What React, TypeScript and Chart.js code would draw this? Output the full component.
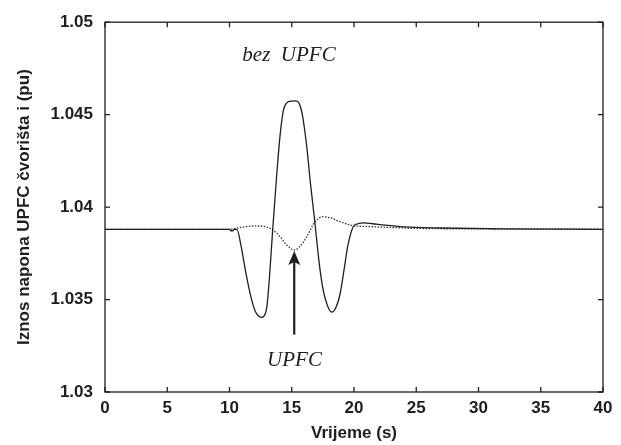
import React, { useEffect, useRef } from 'react';
import { Chart, registerables } from 'chart.js';

Chart.register(...registerables);

// Time axis (s) and voltage magnitude (pu) — curve without UPFC (solid)
const timeBez = [0, 5, 10, 10.1, 10.25, 10.4, 10.6, 10.9, 11.3, 11.7, 12.05, 12.35, 12.6, 12.85, 13.0, 13.2, 13.47, 13.8, 14.05, 14.32, 14.55, 14.8, 15.3, 15.6, 15.85, 16.2, 16.5, 16.87, 17.2, 17.5, 17.8, 18.2, 18.5, 18.88, 19.2, 19.5, 19.94, 20.3, 20.8, 21.5, 22.5, 24, 27, 32, 40];
const valBez = [1.0388, 1.0388, 1.0388, 1.03872, 1.03872, 1.0388, 1.0388, 1.0380, 1.0365, 1.0352, 1.0344, 1.0341, 1.03404, 1.0342, 1.0346, 1.0361, 1.0388, 1.0418, 1.0438, 1.0452, 1.0456, 1.04572, 1.04575, 1.0456, 1.0450, 1.0433, 1.0413, 1.0391, 1.0370, 1.0356, 1.0348, 1.03432, 1.0345, 1.0353, 1.0366, 1.0379, 1.03894, 1.0391, 1.03915, 1.0391, 1.03902, 1.03893, 1.03887, 1.03882, 1.0388];

// Curve with UPFC (dotted)
const timeUpfc = [0, 5, 10, 10.5, 11.2, 12, 12.8, 13.4, 14.06, 14.6, 15.2, 15.7, 16.2, 16.87, 17.5, 18.2, 18.9, 19.94, 21, 23, 25, 30, 40];
const valUpfc = [1.0388, 1.0388, 1.0388, 1.03885, 1.03893, 1.03898, 1.03895, 1.0388, 1.0384, 1.03795, 1.03768, 1.0379, 1.0384, 1.0392, 1.03948, 1.0394, 1.0392, 1.039, 1.03895, 1.0389, 1.03885, 1.03882, 1.0388];

const xTicks = [0, 5, 10, 15, 20, 25, 30, 35, 40];
const xTickLabels = ['0', '5', '10', '15', '20', '25', '30', '35', '40'];
const yTicks = [1.03, 1.035, 1.04, 1.045, 1.05];
const yTickLabels = ['1.03', '1.035', '1.04', '1.045', '1.05'];

const xTitle = 'Vrijeme (s)';
const yTitle = 'Iznos napona UPFC čvorišta i (pu)';

const labelBez = 'bez  UPFC';
const labelBezAt = [14.78, 1.04822];
const labelUpfc = 'UPFC';
const labelUpfcAt = [15.22, 1.03168];
const arrowFrom = [15.2, 1.0331];
const arrowTo = [15.2, 1.03762];

const INK = '#1e1e1e';
const SANS = '"Liberation Sans", Arial, sans-serif';
const SERIF = '"Liberation Serif", "Times New Roman", serif';

const decorPlugin = {
  id: 'decor',
  afterDatasetsDraw(chart: any) {
    const { ctx, chartArea } = chart;
    const xs = chart.scales.x;
    const ys = chart.scales.y;
    const { left, right, top, bottom } = chartArea;
    ctx.save();
    ctx.strokeStyle = INK;
    ctx.lineWidth = 1.3;
    ctx.strokeRect(left, top, right - left, bottom - top);
    const tl = 5;
    ctx.beginPath();
    xTicks.forEach((v) => {
      const px = xs.getPixelForValue(v);
      ctx.moveTo(px, bottom);
      ctx.lineTo(px, bottom - tl);
      ctx.moveTo(px, top);
      ctx.lineTo(px, top + tl);
    });
    yTicks.forEach((v) => {
      const py = ys.getPixelForValue(v);
      ctx.moveTo(left, py);
      ctx.lineTo(left + tl, py);
      ctx.moveTo(right, py);
      ctx.lineTo(right - tl, py);
    });
    ctx.stroke();

    // arrow
    const ax = xs.getPixelForValue(arrowFrom[0]);
    const ay0 = ys.getPixelForValue(arrowFrom[1]);
    const ay1 = ys.getPixelForValue(arrowTo[1]);
    ctx.lineWidth = 2.2;
    ctx.beginPath();
    ctx.moveTo(ax, ay0);
    ctx.lineTo(ax, ay1 + 10);
    ctx.stroke();
    ctx.fillStyle = INK;
    ctx.beginPath();
    ctx.moveTo(ax, ay1);
    ctx.lineTo(ax - 6, ay1 + 14);
    ctx.lineTo(ax, ay1 + 11);
    ctx.lineTo(ax + 6, ay1 + 14);
    ctx.closePath();
    ctx.fill();

    // labels
    ctx.font = 'italic 21px ' + SERIF;
    ctx.textAlign = 'center';
    ctx.textBaseline = 'middle';
    ctx.fillText(labelBez, xs.getPixelForValue(labelBezAt[0]), ys.getPixelForValue(labelBezAt[1]));
    ctx.fillText(labelUpfc, xs.getPixelForValue(labelUpfcAt[0]), ys.getPixelForValue(labelUpfcAt[1]));
    ctx.restore();
  },
};

export default function App() {
  const canvasRef = useRef<HTMLCanvasElement | null>(null);

  useEffect(() => {
    if (!canvasRef.current) return;
    const chart = new Chart(canvasRef.current, {
      type: 'line',
      data: {
        datasets: [
          {
            label: 'bez UPFC',
            data: timeBez.map((t, i) => ({ x: t, y: valBez[i] })),
            borderColor: INK,
            borderWidth: 1.3,
            pointRadius: 0,
            cubicInterpolationMode: 'monotone',
          },
          {
            label: 'UPFC',
            data: timeUpfc.map((t, i) => ({ x: t, y: valUpfc[i] })),
            borderColor: '#333',
            borderWidth: 1.3,
            borderDash: [1.5, 1.5],
            pointRadius: 0,
            cubicInterpolationMode: 'monotone',
          },
        ],
      },
      options: {
        animation: false,
        responsive: true,
        maintainAspectRatio: false,
        layout: { padding: { top: 22, right: 18, left: 0, bottom: 0 } },
        plugins: { legend: { display: false }, tooltip: { enabled: false } },
        scales: {
          x: {
            type: 'linear',
            min: 0,
            max: 40,
            afterFit: (s: any) => { s.height = 53; },
            afterBuildTicks: (s: any) => { s.ticks = xTicks.map((v) => ({ value: v })); },
            grid: { display: false, drawTicks: false },
            border: { display: false },
            ticks: {
              padding: 6,
              color: INK,
              font: { family: SANS, size: 17, weight: 'bold' },
              maxRotation: 0,
              callback: (v: any) => xTickLabels[xTicks.indexOf(Number(v))] ?? '',
            },
            title: {
              display: true,
              text: xTitle,
              color: INK,
              font: { family: SANS, size: 17, weight: 'bold' },
              padding: { top: 0, bottom: 1 },
            },
          },
          y: {
            type: 'linear',
            min: 1.03,
            max: 1.05,
            afterFit: (s: any) => { s.width = 105; },
            afterBuildTicks: (s: any) => { s.ticks = yTicks.map((v) => ({ value: v })); },
            grid: { display: false, drawTicks: false },
            border: { display: false },
            ticks: {
              padding: 12,
              color: INK,
              font: { family: SANS, size: 17, weight: 'bold' },
              callback: (v: any) => {
                const i = yTicks.findIndex((t) => Math.abs(t - Number(v)) < 1e-9);
                return i >= 0 ? yTickLabels[i] : '';
              },
            },
            title: {
              display: true,
              text: yTitle,
              color: INK,
              font: { family: SANS, size: 17, weight: 'bold' },
              padding: { top: 14, bottom: 0 },
            },
          },
        },
      },
      plugins: [decorPlugin],
    } as any);
    return () => chart.destroy();
  }, []);

  return (
    <div style={{ position: 'fixed', left: 0, top: 0, width: 621, height: 445, background: '#fff' }}>
      <canvas ref={canvasRef} />
    </div>
  );
}
